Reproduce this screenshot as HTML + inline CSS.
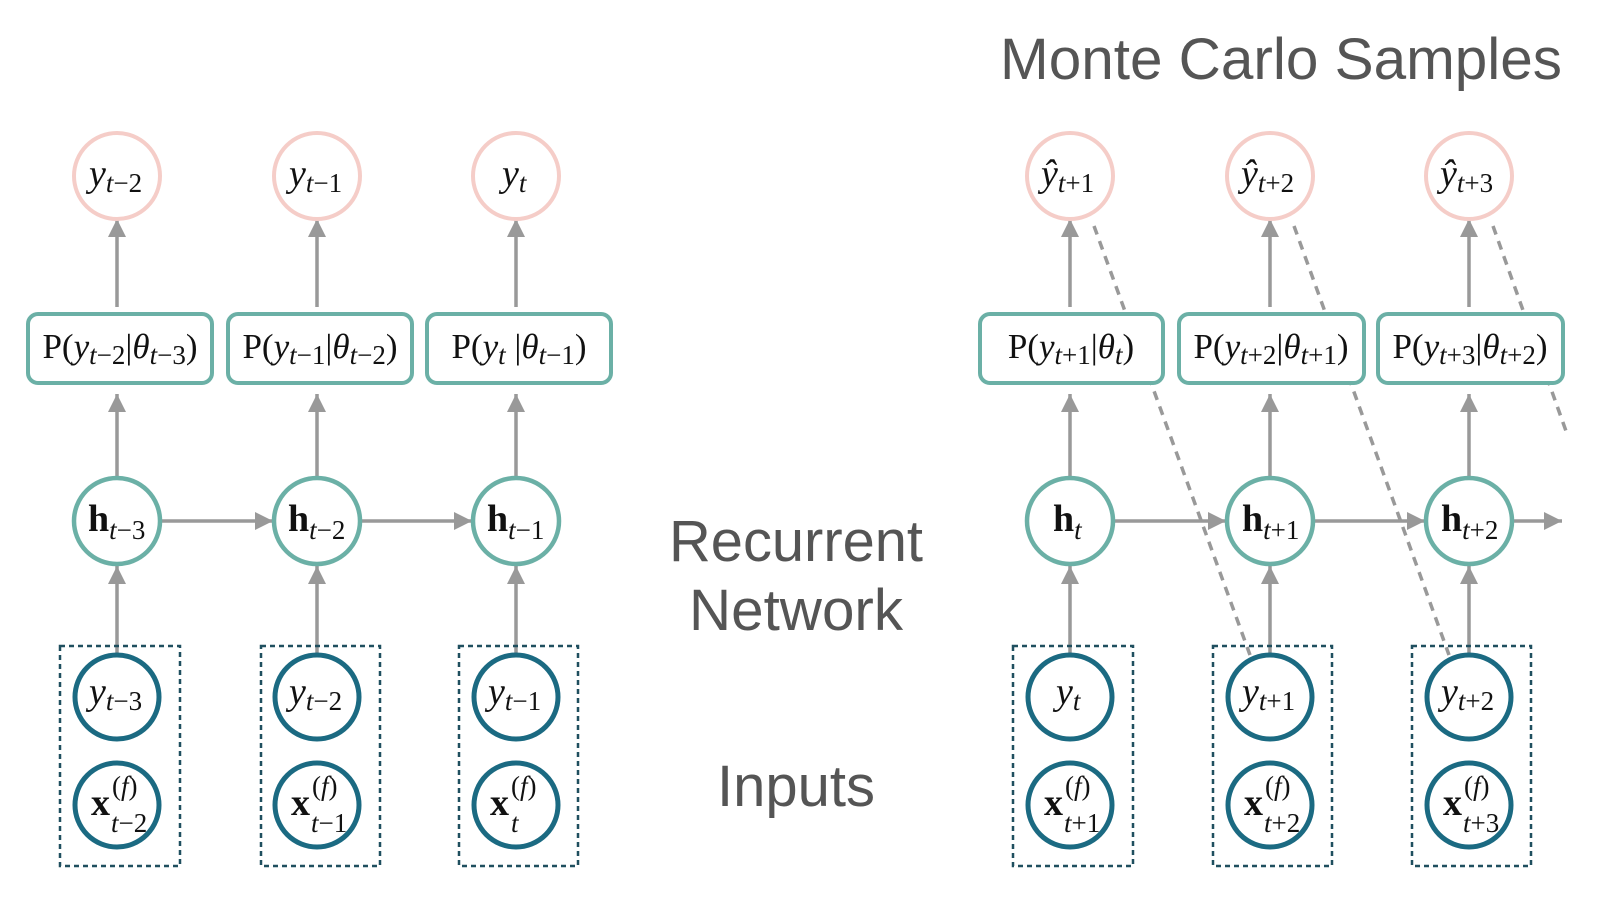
<!DOCTYPE html>
<html><head><meta charset="utf-8"><style>
html,body{margin:0;padding:0;background:#fff;}
svg{display:block;}
.m{font-family:"Liberation Serif",serif;font-size:38px;fill:#111;}
.mb{font-family:"Liberation Serif",serif;font-size:38px;fill:#111;font-weight:bold;}
.s{font-size:27px;font-weight:normal;}
.bx{font-family:"Liberation Serif",serif;font-size:35px;fill:#111;}
.lab{font-family:"Liberation Sans",sans-serif;fill:#555;}
</style></head><body>
<svg width="1600" height="909" viewBox="0 0 1600 909" xmlns="http://www.w3.org/2000/svg">
<defs>
<marker id="ar" viewBox="0 0 10 10" refX="10" refY="5" markerWidth="18" markerHeight="18" markerUnits="userSpaceOnUse" orient="auto"><path d="M0,0 L10,5 L0,10 z" fill="#999"/></marker>
</defs>

<text class="lab" x="1000" y="79" font-size="58" textLength="562" lengthAdjust="spacingAndGlyphs">Monte Carlo Samples</text>
<text class="lab" x="796" y="561" font-size="58" text-anchor="middle" textLength="254" lengthAdjust="spacingAndGlyphs">Recurrent</text>
<text class="lab" x="796" y="630" font-size="58" text-anchor="middle" textLength="214" lengthAdjust="spacingAndGlyphs">Network</text>
<text class="lab" x="796" y="806" font-size="58" text-anchor="middle" textLength="158" lengthAdjust="spacingAndGlyphs">Inputs</text>

<g stroke="#999" stroke-width="3.5" fill="none" marker-end="url(#ar)">
<line x1="117" y1="307" x2="117" y2="219"/><line x1="317" y1="307" x2="317" y2="219"/><line x1="516" y1="307" x2="516" y2="219"/>
<line x1="117" y1="478" x2="117" y2="394"/><line x1="317" y1="478" x2="317" y2="394"/><line x1="516" y1="478" x2="516" y2="394"/>
<line x1="117" y1="655" x2="117" y2="566"/><line x1="317" y1="655" x2="317" y2="566"/><line x1="516" y1="655" x2="516" y2="566"/>
<line x1="162" y1="521" x2="273" y2="521"/><line x1="362" y1="521" x2="472" y2="521"/>
<line x1="1070" y1="307" x2="1070" y2="219"/><line x1="1270" y1="307" x2="1270" y2="219"/><line x1="1469" y1="307" x2="1469" y2="219"/>
<line x1="1070" y1="478" x2="1070" y2="394"/><line x1="1270" y1="478" x2="1270" y2="394"/><line x1="1469" y1="478" x2="1469" y2="394"/>
<line x1="1070" y1="655" x2="1070" y2="566"/><line x1="1270" y1="655" x2="1270" y2="566"/><line x1="1469" y1="655" x2="1469" y2="566"/>
<line x1="1115" y1="521" x2="1226" y2="521"/><line x1="1315" y1="521" x2="1425" y2="521"/><line x1="1514" y1="521" x2="1562" y2="521"/>
</g>
<g stroke="#999" stroke-width="3.5" stroke-dasharray="9,7" fill="none">
<line x1="1094" y1="226" x2="1250" y2="655"/>
<line x1="1294" y1="226" x2="1449" y2="655"/>
<line x1="1493" y1="226" x2="1566" y2="431"/>
</g>

<g fill="#fff" stroke="#f5cdc8" stroke-width="4">
<circle cx="117" cy="176" r="43"/><circle cx="317" cy="176" r="43"/><circle cx="516" cy="176" r="43"/>
<circle cx="1070" cy="176" r="43"/><circle cx="1270" cy="176" r="43"/><circle cx="1469" cy="176" r="43"/>
</g>
<text class="m" x="89" y="186"><tspan font-style="italic">y</tspan><tspan class="s" dy="6"><tspan font-style="italic">t</tspan>−2</tspan></text>
<text class="m" x="289" y="186"><tspan font-style="italic">y</tspan><tspan class="s" dy="6"><tspan font-style="italic">t</tspan>−1</tspan></text>
<text class="m" x="502" y="186"><tspan font-style="italic">y</tspan><tspan class="s" dy="6" font-style="italic">t</tspan></text>
<text class="m" x="1041" y="186"><tspan font-style="italic">ŷ</tspan><tspan class="s" dy="6"><tspan font-style="italic">t</tspan>+1</tspan></text>
<text class="m" x="1241" y="186"><tspan font-style="italic">ŷ</tspan><tspan class="s" dy="6"><tspan font-style="italic">t</tspan>+2</tspan></text>
<text class="m" x="1440" y="186"><tspan font-style="italic">ŷ</tspan><tspan class="s" dy="6"><tspan font-style="italic">t</tspan>+3</tspan></text>

<g fill="#fff" stroke="#6bb0a6" stroke-width="4">
<rect x="28" y="314" width="184" height="69" rx="10"/>
<rect x="228" y="314" width="184" height="69" rx="10"/>
<rect x="427" y="314" width="184" height="69" rx="10"/>
<rect x="980" y="314" width="183" height="69" rx="10"/>
<rect x="1179" y="314" width="185" height="69" rx="10"/>
<rect x="1378" y="314" width="185" height="69" rx="10"/>
</g>
<text class="bx" x="120" y="358" text-anchor="middle">P(<tspan font-style="italic">y</tspan><tspan class="s" dy="6"><tspan font-style="italic">t</tspan>−2</tspan><tspan dy="-6">|</tspan><tspan font-style="italic">θ</tspan><tspan class="s" dy="6"><tspan font-style="italic">t</tspan>−3</tspan><tspan dy="-6">)</tspan></text>
<text class="bx" x="320" y="358" text-anchor="middle">P(<tspan font-style="italic">y</tspan><tspan class="s" dy="6"><tspan font-style="italic">t</tspan>−1</tspan><tspan dy="-6">|</tspan><tspan font-style="italic">θ</tspan><tspan class="s" dy="6"><tspan font-style="italic">t</tspan>−2</tspan><tspan dy="-6">)</tspan></text>
<text class="bx" x="519" y="358" text-anchor="middle">P(<tspan font-style="italic">y</tspan><tspan class="s" dy="6" font-style="italic">t</tspan><tspan dy="-6"> |</tspan><tspan font-style="italic">θ</tspan><tspan class="s" dy="6"><tspan font-style="italic">t</tspan>−1</tspan><tspan dy="-6">)</tspan></text>
<text class="bx" x="1071" y="358" text-anchor="middle">P(<tspan font-style="italic">y</tspan><tspan class="s" dy="6"><tspan font-style="italic">t</tspan>+1</tspan><tspan dy="-6">|</tspan><tspan font-style="italic">θ</tspan><tspan class="s" dy="6" font-style="italic">t</tspan><tspan dy="-6">)</tspan></text>
<text class="bx" x="1271" y="358" text-anchor="middle">P(<tspan font-style="italic">y</tspan><tspan class="s" dy="6"><tspan font-style="italic">t</tspan>+2</tspan><tspan dy="-6">|</tspan><tspan font-style="italic">θ</tspan><tspan class="s" dy="6"><tspan font-style="italic">t</tspan>+1</tspan><tspan dy="-6">)</tspan></text>
<text class="bx" x="1470" y="358" text-anchor="middle">P(<tspan font-style="italic">y</tspan><tspan class="s" dy="6"><tspan font-style="italic">t</tspan>+3</tspan><tspan dy="-6">|</tspan><tspan font-style="italic">θ</tspan><tspan class="s" dy="6"><tspan font-style="italic">t</tspan>+2</tspan><tspan dy="-6">)</tspan></text>

<g fill="#fff" stroke="#6bb0a6" stroke-width="4.5">
<circle cx="117" cy="521" r="43"/><circle cx="317" cy="521" r="43"/><circle cx="516" cy="521" r="43"/>
<circle cx="1070" cy="521" r="43"/><circle cx="1270" cy="521" r="43"/><circle cx="1469" cy="521" r="43"/>
</g>
<text class="mb" x="88" y="531">h<tspan class="s" dy="8"><tspan font-style="italic">t</tspan>−3</tspan></text>
<text class="mb" x="288" y="531">h<tspan class="s" dy="8"><tspan font-style="italic">t</tspan>−2</tspan></text>
<text class="mb" x="487" y="531">h<tspan class="s" dy="8"><tspan font-style="italic">t</tspan>−1</tspan></text>
<text class="mb" x="1053" y="531">h<tspan class="s" dy="8" font-style="italic">t</tspan></text>
<text class="mb" x="1242" y="531">h<tspan class="s" dy="8"><tspan font-style="italic">t</tspan>+1</tspan></text>
<text class="mb" x="1441" y="531">h<tspan class="s" dy="8"><tspan font-style="italic">t</tspan>+2</tspan></text>

<g fill="none" stroke="#1f4f5f" stroke-width="2.5" stroke-dasharray="5,4">
<rect x="60" y="646" width="120" height="220"/><rect x="261" y="646" width="119" height="220"/><rect x="459" y="646" width="119" height="220"/>
<rect x="1013" y="646" width="120" height="220"/><rect x="1213" y="646" width="119" height="220"/><rect x="1412" y="646" width="119" height="220"/>
</g>
<g fill="#fff" stroke="#1b6a82" stroke-width="5">
<circle cx="117" cy="697" r="42"/><circle cx="317" cy="697" r="42"/><circle cx="516" cy="697" r="42"/>
<circle cx="1070" cy="697" r="42"/><circle cx="1270" cy="697" r="42"/><circle cx="1469" cy="697" r="42"/>
<circle cx="117" cy="805" r="42"/><circle cx="317" cy="805" r="42"/><circle cx="516" cy="805" r="42"/>
<circle cx="1070" cy="805" r="42"/><circle cx="1270" cy="805" r="42"/><circle cx="1469" cy="805" r="42"/>
</g>
<text class="m" x="89" y="704"><tspan font-style="italic">y</tspan><tspan class="s" dy="6"><tspan font-style="italic">t</tspan>−3</tspan></text>
<text class="m" x="289" y="704"><tspan font-style="italic">y</tspan><tspan class="s" dy="6"><tspan font-style="italic">t</tspan>−2</tspan></text>
<text class="m" x="488" y="704"><tspan font-style="italic">y</tspan><tspan class="s" dy="6"><tspan font-style="italic">t</tspan>−1</tspan></text>
<text class="m" x="1056" y="704"><tspan font-style="italic">y</tspan><tspan class="s" dy="6" font-style="italic">t</tspan></text>
<text class="m" x="1242" y="704"><tspan font-style="italic">y</tspan><tspan class="s" dy="6"><tspan font-style="italic">t</tspan>+1</tspan></text>
<text class="m" x="1441" y="704"><tspan font-style="italic">y</tspan><tspan class="s" dy="6"><tspan font-style="italic">t</tspan>+2</tspan></text>

<g>
<text class="mb" x="91" y="815">x</text><text class="m s" x="112" y="795">(<tspan font-style="italic">f</tspan>)</text><text class="m s" x="111" y="832"><tspan font-style="italic">t</tspan>−2</text>
<text class="mb" x="291" y="815">x</text><text class="m s" x="312" y="795">(<tspan font-style="italic">f</tspan>)</text><text class="m s" x="311" y="832"><tspan font-style="italic">t</tspan>−1</text>
<text class="mb" x="490" y="815">x</text><text class="m s" x="511" y="795">(<tspan font-style="italic">f</tspan>)</text><text class="m s" x="511" y="832" font-style="italic">t</text>
<text class="mb" x="1044" y="815">x</text><text class="m s" x="1065" y="795">(<tspan font-style="italic">f</tspan>)</text><text class="m s" x="1064" y="832"><tspan font-style="italic">t</tspan>+1</text>
<text class="mb" x="1244" y="815">x</text><text class="m s" x="1265" y="795">(<tspan font-style="italic">f</tspan>)</text><text class="m s" x="1264" y="832"><tspan font-style="italic">t</tspan>+2</text>
<text class="mb" x="1443" y="815">x</text><text class="m s" x="1464" y="795">(<tspan font-style="italic">f</tspan>)</text><text class="m s" x="1463" y="832"><tspan font-style="italic">t</tspan>+3</text>
</g>
</svg>
</body></html>
